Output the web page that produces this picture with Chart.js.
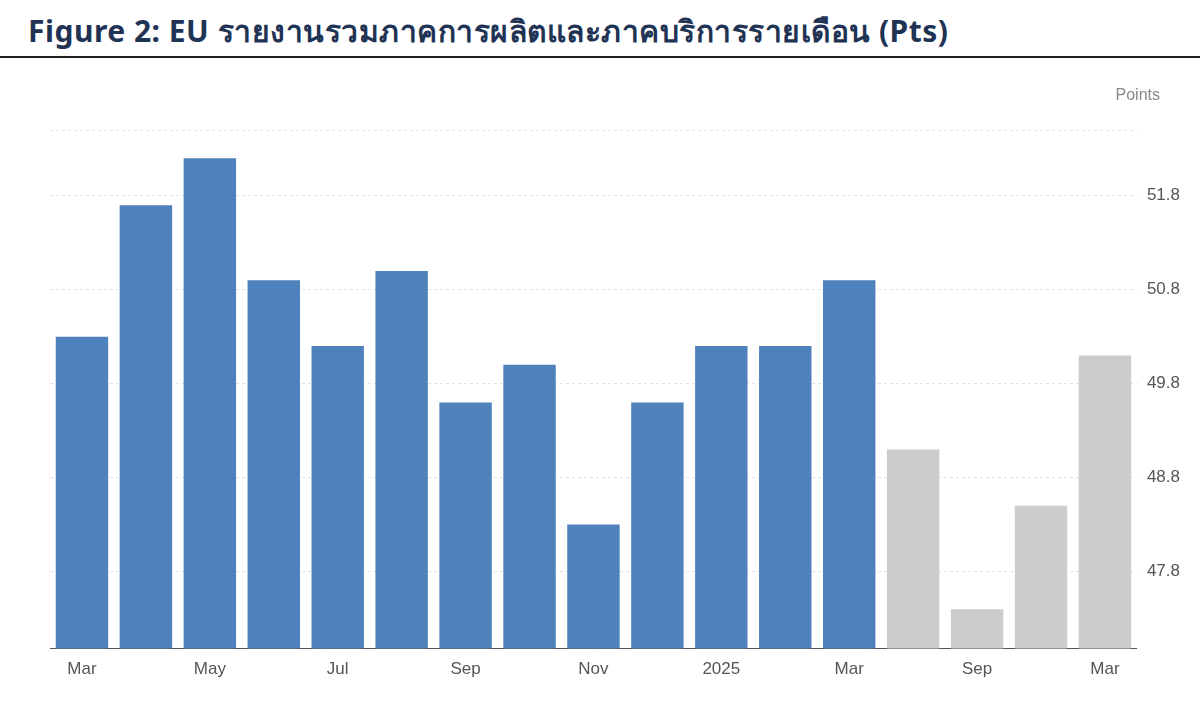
<!DOCTYPE html>
<html><head><meta charset="utf-8">
<script src="https://cdn.jsdelivr.net/npm/chart.js@4"></script>
<style>
body{margin:0;background:#fff;width:1200px;height:703px;overflow:hidden;font-family:"Noto Sans",sans-serif}
#t{position:absolute;left:28px;top:8px;font-size:30px;font-weight:bold;color:#1f3354;letter-spacing:0.5px}
#line{position:absolute;left:0;top:56px;width:1200px;height:2px;background:#222}
#wrap{position:absolute;left:0;top:60px;width:1200px;height:643px}
</style></head><body>
<div id="t">Figure 2: EU รายงานรวมภาคการผลิตและภาคบริการรายเดือน (Pts)</div>
<div id="line"></div>
<div id="wrap"><canvas id="c"></canvas></div>
<script>
const categories=["Mar 2024","Apr 2024","May 2024","Jun 2024","Jul 2024","Aug 2024","Sep 2024","Oct 2024","Nov 2024","Dec 2024","Jan 2025","Feb 2025","Mar 2025","Jun 2025","Sep 2025","Dec 2025","Mar 2026"];
const tickLabels=["Mar","","May","","Jul","","Sep","","Nov","","2025","","Mar","","Sep","","Mar"];
const values=[50.3,51.7,52.2,50.9,50.2,51.0,49.6,50.0,48.3,49.6,50.2,50.2,50.9,49.1,47.4,48.5,50.1];
const isForecast=[0,0,0,0,0,0,0,0,0,0,0,0,0,1,1,1,1];
const yTicks=[47.8,48.8,49.8,50.8,51.8];
new Chart(document.getElementById('c'),{
 type:'bar',
 data:{labels:categories,datasets:[{data:values,backgroundColor:isForecast.map(f=>f?'#cccccc':'#4f81bd'),categoryPercentage:1,barPercentage:0.82}]},
 options:{responsive:true,maintainAspectRatio:false,animation:false,
  layout:{padding:{left:50,right:10,top:70,bottom:20}},
  plugins:{legend:{display:false},tooltip:{enabled:false}},
  scales:{
   x:{grid:{display:false},border:{color:'#555'},ticks:{color:'#555',font:{size:17,family:'Liberation Sans'},maxRotation:0,autoSkip:false,callback:(v,i)=>tickLabels[i]}},
   y:{position:'right',min:46.98,max:52.5,afterBuildTicks:a=>{a.ticks=yTicks.map(v=>({value:v}))},
      grid:{color:'#e2e2e2',drawTicks:false},border:{display:false,dash:[3,3]},
      ticks:{color:'#555',padding:10,font:{size:17,family:'Liberation Sans'},callback:v=>v.toFixed(1)}}
  }},
 plugins:[{id:'pts',afterDraw(ch){const c=ch.ctx;c.save();c.fillStyle='#888';c.font='16px Liberation Sans';c.textAlign='right';c.fillText('Points',1160,40);
  c.strokeStyle='#e6e6e6';c.setLineDash([3,3]);c.beginPath();c.moveTo(ch.chartArea.left,ch.chartArea.top+0.5);c.lineTo(ch.chartArea.right,ch.chartArea.top+0.5);c.stroke();c.restore();}}]
});
</script></body></html>
